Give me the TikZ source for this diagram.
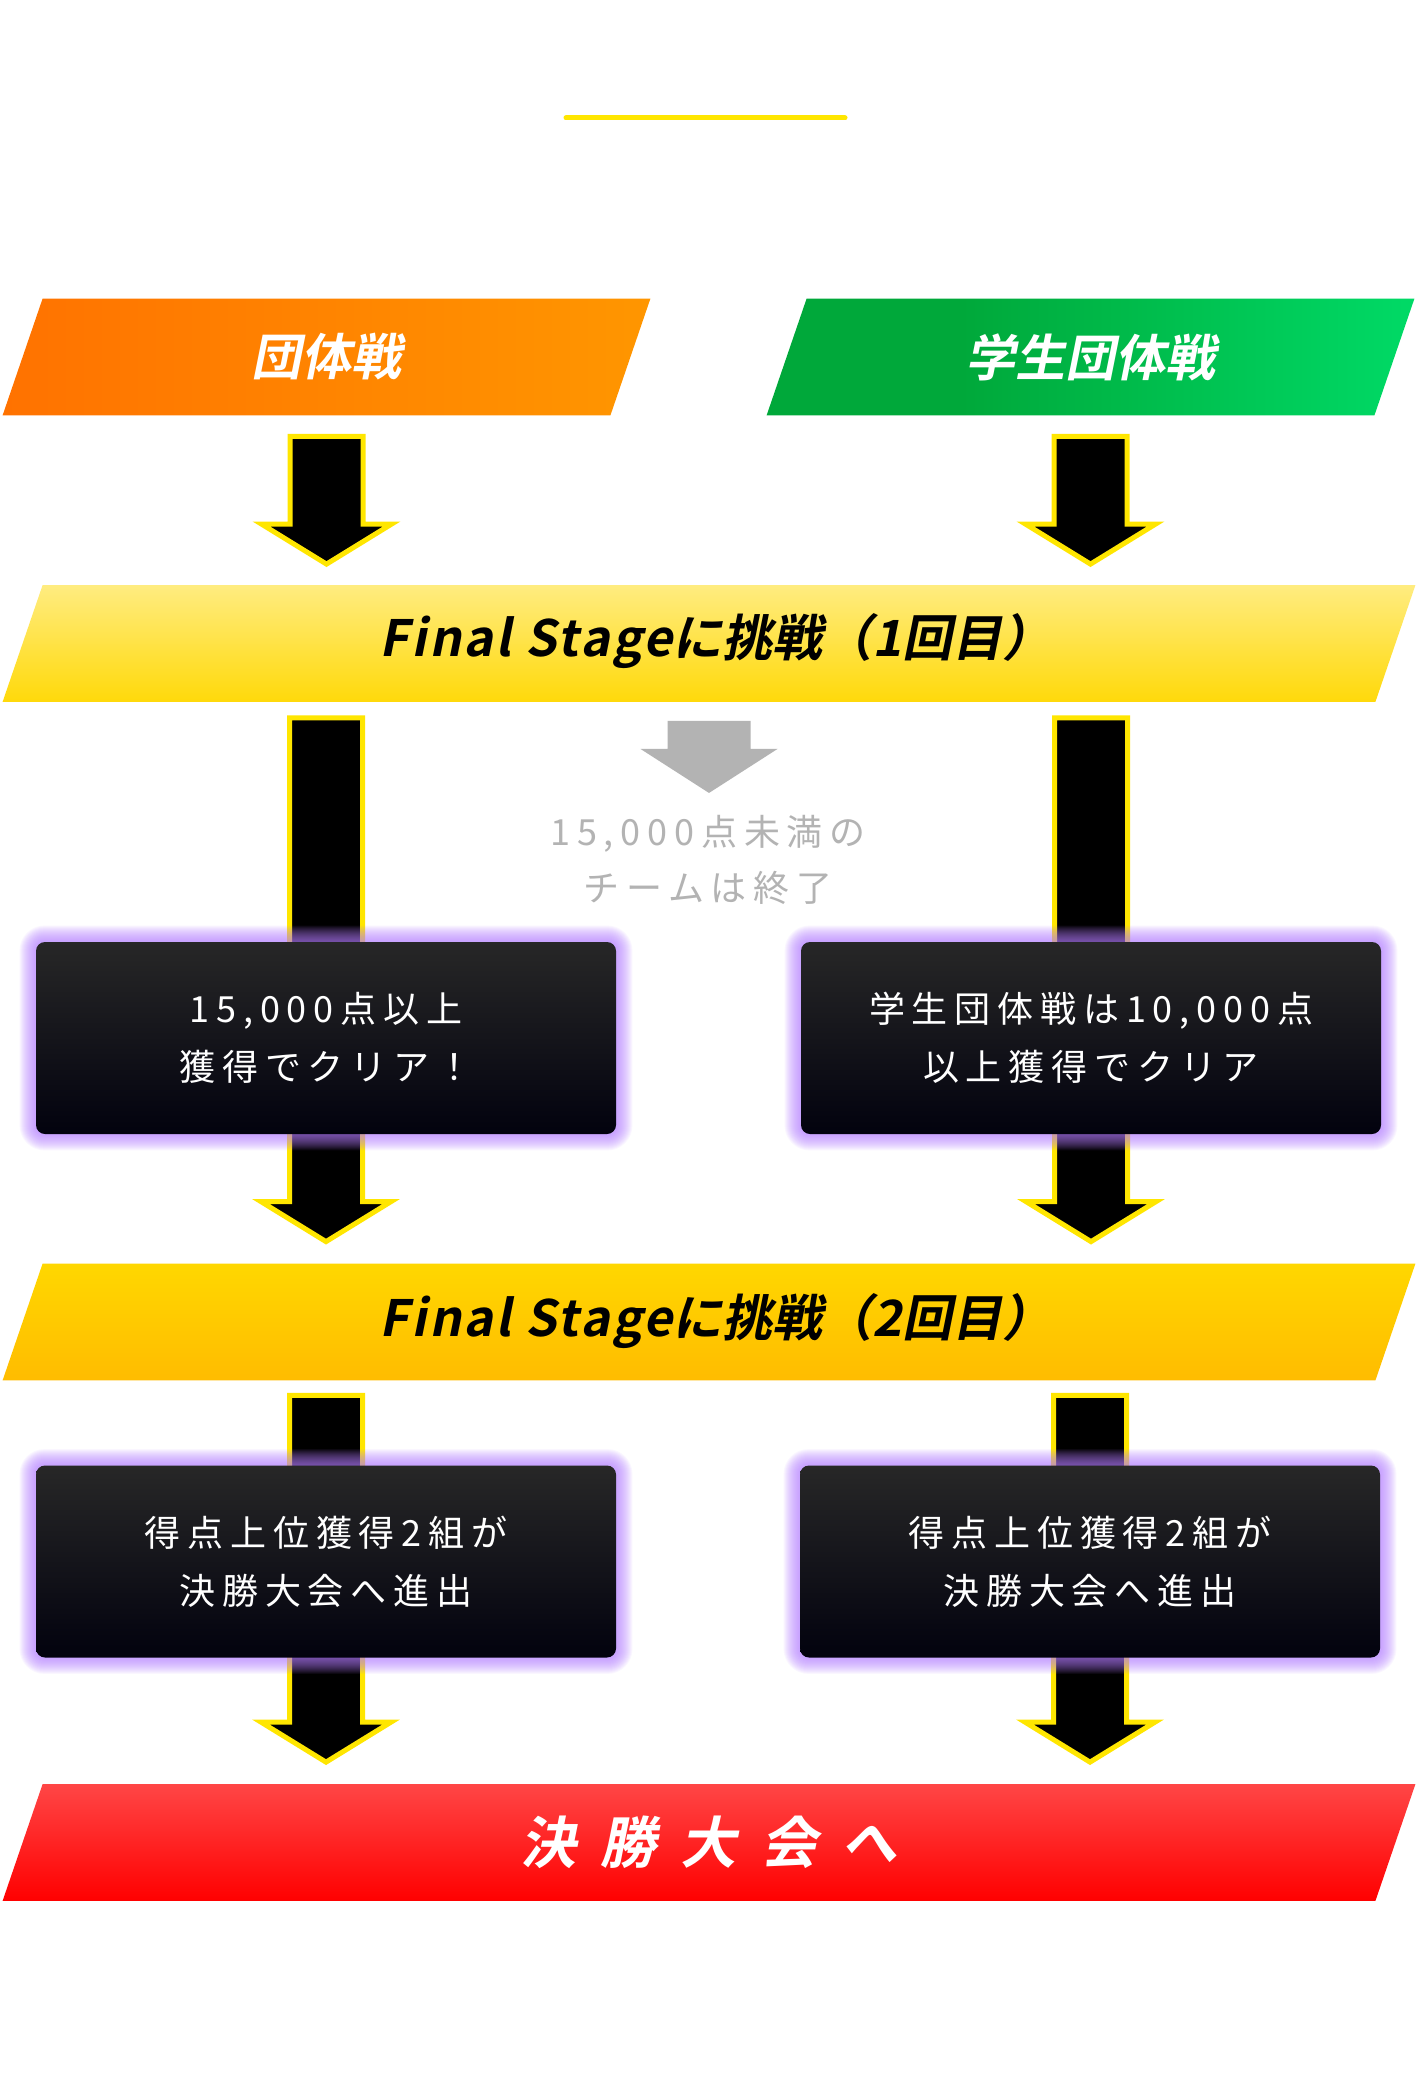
\documentclass[tikz,border=0pt]{standalone}
\usepackage{fontspec}
\usetikzlibrary{calc}

\newfontfamily\jpfont[LetterSpace=19]{Noto Sans CJK JP}
\newfontfamily\jpbold[FakeSlant=0.2]{Noto Sans CJK JP Bold}
\newfontfamily\jpboldlatin[FakeSlant=0.2,LetterSpace=5]{Noto Sans CJK JP Bold}
\newfontfamily\jpboldwide[FakeSlant=0.2,LetterSpace=43]{Noto Sans CJK JP Bold}

\definecolor{orangeL}{HTML}{FF7200}
\definecolor{orangeR}{HTML}{FF9600}
\definecolor{greenL}{HTML}{00A83A}
\definecolor{greenR}{HTML}{00DA66}
\definecolor{stageAtop}{HTML}{FFEC80}
\definecolor{stageAbot}{HTML}{FFD90A}
\definecolor{stageBtop}{HTML}{FFD700}
\definecolor{stageBbot}{HTML}{FFBC00}
\definecolor{finaltop}{HTML}{FF4646}
\definecolor{finalbot}{HTML}{FF0000}
\definecolor{arrowyellow}{HTML}{FFE600}
\definecolor{glowpurple}{HTML}{B57EFF}
\definecolor{notegray}{HTML}{B3B3B3}
\definecolor{boxtop}{HTML}{272727}
\definecolor{boxbot}{HTML}{02020E}

\pgfdeclarehorizontalshading{greenband}{100bp}{color(0bp)=(greenL); color(40bp)=(greenL); color(75bp)=(greenR); color(100bp)=(greenR)}

\pgfdeclarelayer{background}
\pgfdeclarelayer{banners}
\pgfdeclarelayer{arrows}
\pgfdeclarelayer{glow}
\pgfsetlayers{background,banners,arrows,glow,main}

% block arrow: start \gapa below #2, tip \gapb above #3
\def\shaftw{18.25pt}
\def\headw{32.5pt}
\def\headl{20pt}
\def\gapa{21}
\def\gapb{21}
\newcommand{\blockarrow}[3][]{%
  \path[#1] let \p1=($(#2)+(0,\gapa)$), \p2=($(#3)-(0,\gapb)$) in
    (\x1-\shaftw,\y1) -- (\x1+\shaftw,\y1) -- (\x1+\shaftw,\y2+\headl) -- (\x1+\headw,\y2+\headl)
    -- (\x1,\y2) -- (\x1-\headw,\y2+\headl) -- (\x1-\shaftw,\y2+\headl) -- cycle;
}
% slanted band behind a banner node
\newcommand{\bannerfill}[2]{%
  \shade[#1] ([xshift=20pt]#2.north west) -- (#2.north east) -- ([xshift=-20pt]#2.south east) -- (#2.south west) -- cycle;
}
\newcommand{\glow}[1]{%
  \foreach \g [evaluate=\g as \rr using \g*0.5+4.5] in {1,...,16}
    \fill[glowpurple, opacity=0.065, rounded corners=\rr pt] ([shift={(-\g,-\g)}]#1.north west) rectangle ([shift={(\g,\g)}]#1.south east);
}

\tikzset{
  banner/.style={rectangle, minimum height=58pt, inner sep=0pt},
  teambanner/.style={banner, minimum width=323.5pt, text=white, font=\jpbold\fontsize{25}{30}\selectfont},
  stagebanner/.style={banner, minimum width=706pt, text=black, font=\jpbold\fontsize{25}{30}\selectfont},
  stagetext/.style={inner sep=0pt, text=black, font=\jpbold\fontsize{25}{30}\selectfont},
  clearbox/.style={rectangle, rounded corners=4.5pt, minimum width=290pt, minimum height=96pt,
    top color=boxtop, bottom color=boxbot, text=white, align=center, font=\jpfont\fontsize{18}{29}\selectfont},
  note/.style={inner sep=0pt, text=notegray, align=center, font=\jpfont\fontsize{18}{28}\selectfont},
  bigarrow/.style={fill=black, draw=arrowyellow, line width=2.5pt, line join=miter},
  grayarrow/.style={fill=notegray}
}

\begin{document}
\begin{tikzpicture}[x=0.5pt,y=-0.5pt]
\begin{pgfonlayer}{background}
\fill[white] (0,0) rectangle (1416,2080);
\end{pgfonlayer}
\useasboundingbox (0,0) rectangle (1416,2080);

\draw[arrowyellow, line width=2.5pt, line cap=round] (566,118) -- (845,118);

% banners
\node[teambanner] (teamA) at (326.5,357) {団体戦};
\node[teambanner] (teamB) at (1090.5,357) {学生団体戦};
\node[banner, minimum width=706pt] (fs1) at (709,643.5) {};
\node[stagetext] (fs1text) at (716,641) {{\jpboldlatin Final Stage}に挑戦（1回目）};
\node[banner, minimum width=706pt] (fs2) at (709,1322) {};
\node[stagetext] (fs2text) at (716,1321) {{\jpboldlatin Final Stage}に挑戦（2回目）};
\node[stagebanner, text=white, font=\jpboldwide\fontsize{28}{32}\selectfont] (final) at (709,1842.5) {決勝大会へ};

\begin{pgfonlayer}{banners}
\bannerfill{left color=orangeL, right color=orangeR}{teamA}
\bannerfill{shading=greenband}{teamB}
\bannerfill{top color=stageAtop, bottom color=stageAbot}{fs1}
\bannerfill{top color=stageBtop, bottom color=stageBbot}{fs2}
\bannerfill{top color=finaltop, bottom color=finalbot}{final}
\end{pgfonlayer}

% boxes
\node[clearbox] (clearA) at (326,1038) {15,000点以上\\獲得でクリア！};
\node[clearbox] (clearB) at (1091,1038) {学生団体戦は10,000点\\以上獲得でクリア};
\node[clearbox] (topA) at (326,1561.5) {得点上位獲得2組が\\決勝大会へ進出};
\node[clearbox] (topB) at (1090,1561.5) {得点上位獲得2組が\\決勝大会へ進出};
\node[note] (note) at (708,860) {15,000点未満の\\チームは終了};

\begin{pgfonlayer}{glow}
\glow{clearA}
\glow{clearB}
\glow{topA}
\glow{topB}
\end{pgfonlayer}

\begin{pgfonlayer}{arrows}
\blockarrow[bigarrow]{teamA.south}{teamA.south |- fs1.north}
\blockarrow[bigarrow]{teamB.south}{teamB.south |- fs1.north}
\def\gapa{16}
\def\gapb{22}
\blockarrow[bigarrow]{clearA.north |- fs1.south}{clearA.north |- fs2.north}
\blockarrow[bigarrow]{clearB.north |- fs1.south}{clearB.north |- fs2.north}
\def\gapa{15}
\blockarrow[bigarrow]{topA.north |- fs2.south}{topA.north |- final.north}
\blockarrow[bigarrow]{topB.north |- fs2.south}{topB.north |- final.north}
\def\shaftw{20.75pt}
\def\headw{34.25pt}
\def\headl{22pt}
\def\gapa{19}
\blockarrow[grayarrow]{fs1.south}{note.north}
\end{pgfonlayer}
\end{tikzpicture}
\end{document}
